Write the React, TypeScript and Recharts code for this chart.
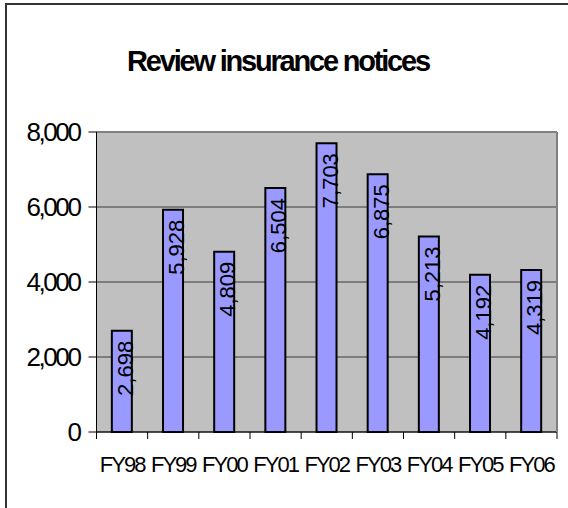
import React from 'react';
import { BarChart, Bar, XAxis, YAxis, CartesianGrid, LabelList } from 'recharts';

const categories = ['FY98', 'FY99', 'FY00', 'FY01', 'FY02', 'FY03', 'FY04', 'FY05', 'FY06'];
const values = [2698, 5928, 4809, 6504, 7703, 6875, 5213, 4192, 4319];
const yTicks = [0, 2000, 4000, 6000, 8000];
const title = 'Review insurance notices';

const data = categories.map((name, i) => ({ name, value: values[i] }));

const FONT = '"Liberation Sans", Arial, Helvetica, sans-serif';
const fmt = (v: number) => Number(v).toLocaleString('en-US');

const LABEL_MARGIN = 24;
const TICK_LEN = 7;

const renderValueLabel = (props: any) => {
  const { x, y, width, value } = props;
  const cx = Number(x) + Number(width) / 2 + 11;
  const ty = Number(y) + 10;
  return (
    <text
      x={cx}
      y={ty}
      transform={`rotate(-90 ${cx} ${ty})`}
      textAnchor="end"
      fontSize={22}
      fontFamily={FONT}
      fill="#000"
    >
      {fmt(value)}
    </text>
  );
};

const CategoryTick = (props: any) => {
  const { x, y, payload, index } = props;
  const half = Number(payload?.offset ?? 0);
  const axisY = Number(y) - LABEL_MARGIN;
  const last = index === categories.length - 1;
  return (
    <g>
      <line x1={x - half} x2={x - half} y1={axisY} y2={axisY + TICK_LEN} stroke="#000" />
      {last && <line x1={x + half} x2={x + half} y1={axisY} y2={axisY + TICK_LEN} stroke="#000" />}
      <text
        x={x}
        y={y}
        dy="0.71em"
        textAnchor="middle"
        fontSize={22}
        letterSpacing={-2}
        fontFamily={FONT}
        fill="#000"
      >
        {payload.value}
      </text>
    </g>
  );
};

export default function App() {
  return (
    <div
      style={{
        position: 'absolute',
        left: 0,
        top: 0,
        width: 568,
        height: 508,
        overflow: 'hidden',
        background: '#fff',
        fontFamily: FONT,
      }}
    >
      <div
        style={{
          position: 'absolute',
          left: 5,
          top: 3,
          width: 700,
          height: 700,
          borderTop: '2px solid #333',
          borderLeft: '2px solid #333',
          boxSizing: 'border-box',
        }}
      />
      <div
        style={{
          position: 'absolute',
          left: 0,
          top: 46.5,
          width: 556,
          textAlign: 'center',
          fontSize: 29,
          lineHeight: '29px',
          fontWeight: 'bold',
          letterSpacing: -2.2,
          color: '#000',
        }}
      >
        {title}
      </div>
      <div style={{ position: 'absolute', left: 0, top: 0 }}>
        <BarChart
          width={568}
          height={508}
          data={data}
          margin={{ top: 131, right: 10, left: 0, bottom: 36 }}
          barCategoryGap="30%"
        >
          <CartesianGrid vertical={false} stroke="#3a3a3a" fill="#C0C0C0" yAxisId="left" xAxisId="cat" />
          <XAxis
            xAxisId="top"
            orientation="top"
            dataKey="name"
            height={1}
            tick={false}
            tickLine={false}
            axisLine={{ stroke: '#808080', strokeWidth: 2 }}
          />
          <XAxis
            xAxisId="cat"
            dataKey="name"
            height={40}
            tickLine={false}
            tickSize={0}
            tickMargin={LABEL_MARGIN}
            axisLine={{ stroke: '#000' }}
            tick={<CategoryTick />}
            interval={0}
          />
          <YAxis
            yAxisId="left"
            domain={[0, 8000]}
            ticks={yTicks}
            width={96.5}
            tickSize={8}
            tickMargin={9}
            axisLine={{ stroke: '#000' }}
            tickLine={{ stroke: '#000' }}
            tickFormatter={fmt}
            tick={{ fontSize: 26, letterSpacing: -2.4, fill: '#000', fontFamily: FONT }}
          />
          <YAxis
            yAxisId="right"
            orientation="right"
            domain={[0, 8000]}
            width={1}
            tick={false}
            tickLine={false}
            axisLine={{ stroke: '#808080', strokeWidth: 2 }}
          />
          <Bar
            dataKey="value"
            xAxisId="cat"
            yAxisId="left"
            fill="#9999FF"
            stroke="#000"
            strokeWidth={2}
            isAnimationActive={false}
          >
            <LabelList dataKey="value" content={renderValueLabel} />
          </Bar>
        </BarChart>
      </div>
    </div>
  );
}
